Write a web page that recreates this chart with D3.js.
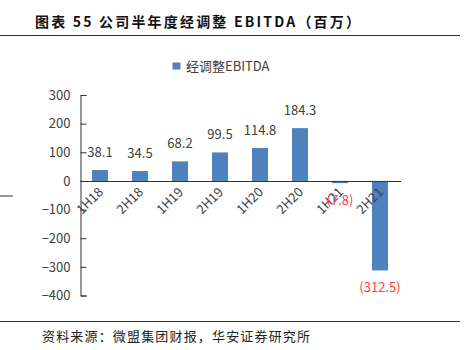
<!DOCTYPE html>
<html>
<head>
  <meta charset="utf-8">
  <script src="https://cdn.jsdelivr.net/npm/d3@7"></script>
  <style>
    body { margin: 0; background: #fff; }
    text { font-family: "Noto Sans CJK SC", "Open Sans", sans-serif; }
  </style>
</head>
<body>
  <div id="chart"></div>
  <script>
    const categories = ["1H18", "2H18", "1H19", "2H19", "1H20", "2H20", "1H21", "2H21"];
    const values = [38.1, 34.5, 68.2, 99.5, 114.8, 184.3, -7.8, -312.5];
    const yTicks = [300, 200, 100, 0, -100, -200, -300, -400];
    const seriesName = "经调整EBITDA";

    const width = 467, height = 350;
    const svg = d3.select("#chart").append("svg")
      .attr("width", width)
      .attr("height", height);

    // title + rules
    svg.append("text")
      .attr("x", 35).attr("y", 27)
      .attr("font-size", 14).attr("font-weight", "bold")
      .attr("fill", "#111")
      .attr("textLength", 325).attr("lengthAdjust", "spacing")
      .text("图表 55 公司半年度经调整 EBITDA（百万）");
    svg.append("line")
      .attr("x1", 0).attr("x2", 460).attr("y1", 35.5).attr("y2", 35.5)
      .attr("stroke", "#333").attr("stroke-width", 1);
    svg.append("line")
      .attr("x1", 0).attr("x2", 460).attr("y1", 321.5).attr("y2", 321.5)
      .attr("stroke", "#333").attr("stroke-width", 1);
    svg.append("text")
      .attr("x", 42).attr("y", 341)
      .attr("font-size", 13).attr("fill", "#222")
      .attr("textLength", 268).attr("lengthAdjust", "spacing")
      .text("资料来源：微盟集团财报，华安证券研究所");

    // bits of the neighbouring chart at the left edge
    svg.append("line")
      .attr("x1", 0).attr("x2", 13).attr("y1", 196).attr("y2", 196)
      .attr("stroke", "#333");
    svg.append("text")
      .attr("x", -4).attr("y", 300)
      .attr("font-size", 14).attr("fill", "#ff3b3b")
      .text(")");

    // legend
    svg.append("rect")
      .attr("x", 172.5).attr("y", 62.5).attr("width", 8).attr("height", 7)
      .attr("fill", "#4f81bd");
    svg.append("text")
      .attr("x", 186).attr("y", 71)
      .attr("font-size", 13).attr("fill", "#404040")
      .text(seriesName);

    const x = d3.scaleBand().domain(categories).range([80, 400]).paddingInner(0.6).paddingOuter(0.3);
    const y = d3.scaleLinear().domain([-400, 300]).range([295.5, 95]);

    // bars
    svg.append("g").selectAll("rect")
      .data(values)
      .join("rect")
      .attr("x", (d, i) => x(categories[i]))
      .attr("width", x.bandwidth())
      .attr("y", d => y(Math.max(0, d)))
      .attr("height", d => Math.abs(y(d) - y(0)))
      .attr("fill", "#4f81bd");

    // y axis
    const yAxis = svg.append("g")
      .attr("transform", "translate(80.5,0)")
      .call(d3.axisRight(y).tickValues(yTicks).tickSize(6).tickFormat(d3.format("d")));
    yAxis.select(".domain").attr("stroke", "#333");
    yAxis.selectAll(".tick line").attr("stroke", "#333");
    yAxis.selectAll(".tick text")
      .attr("x", -10).attr("text-anchor", "end")
      .attr("font-size", 13).attr("fill", "#404040")
      .attr("font-family", "'Noto Sans CJK SC', sans-serif");

    // x axis at zero
    svg.append("line")
      .attr("x1", 80).attr("x2", 401)
      .attr("y1", Math.round(y(0)) + 0.5).attr("y2", Math.round(y(0)) + 0.5)
      .attr("stroke", "#333");

    // category labels
    svg.append("g").selectAll("text")
      .data(categories)
      .join("text")
      .attr("transform", d => `translate(${x(d) + x.bandwidth() / 2 + 4},${y(0) + 12}) rotate(-45)`)
      .attr("text-anchor", "end")
      .attr("font-size", 13).attr("fill", "#404040")
      .text(d => d);

    // value labels
    const fmt = d => d < 0 ? `(${Math.abs(d).toFixed(1)})` : d.toFixed(1);
    svg.append("g").selectAll("text")
      .data(values)
      .join("text")
      .attr("x", (d, i) => x(categories[i]) + x.bandwidth() / 2)
      .attr("y", d => d >= 0 ? y(d) - 13 : y(d) + 22)
      .attr("text-anchor", "middle")
      .attr("font-size", 13)
      .attr("fill", d => d < 0 ? "#ff3b3b" : "#404040")
      .text(fmt);
  </script>
</body>
</html>
